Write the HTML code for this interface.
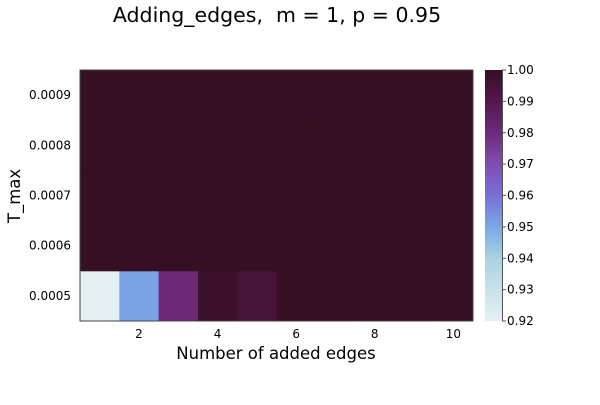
<!DOCTYPE html>
<html><head><meta charset="utf-8"><style>
body{margin:0;background:#fff}
svg text{font-family:"DejaVu Sans","Liberation Sans",sans-serif}
</style></head><body>
<svg id="c" width="600" height="400" xmlns="http://www.w3.org/2000/svg">
<defs><linearGradient id="g" x1="0" y1="1" x2="0" y2="0">
<stop offset="0" stop-color="#e6f1f1"/><stop offset="0.25" stop-color="#a9d2e0"/>
<stop offset="0.375" stop-color="#7aa8e6"/><stop offset="0.5" stop-color="#7a6ed6"/>
<stop offset="0.625" stop-color="#7f4db4"/><stop offset="0.75" stop-color="#6e2a7a"/>
<stop offset="0.875" stop-color="#561750"/><stop offset="1" stop-color="#360f22"/>
</linearGradient></defs>
</svg>
<script>
const xCats=[1,2,3,4,5,6,7,8,9,10];
const yCats=[0.0005,0.0006,0.0007,0.0008,0.0009];
const z=[
[0.921,0.951,0.981,0.998,0.995,1,1,1,1,1],
[1,1,1,1,1,1,1,1,1,1],
[1,1,1,1,1,1,1,1,1,1],
[1,1,1,1,1,1,1,1,1,1],
[1,1,1,1,1,1,1,1,1,1]];
const xTicks=[2,4,6,8,10];
const yTickLabels=["0.0005","0.0006","0.0007","0.0008","0.0009"];
const cTicks=[0.92,0.93,0.94,0.95,0.96,0.97,0.98,0.99,1.00];
const cmin=0.92,cmax=1.0;
const L=80,R=473,T=70,B=321;
const svg=document.getElementById('c');
const NS='http://www.w3.org/2000/svg';
const xs=v=>L+(v-0.5)/10*(R-L);
const ys=v=>B-(v-0.00045)/0.0005*(B-T);
const stops=[[0,[230,241,241]],[0.25,[169,210,224]],[0.375,[122,168,230]],[0.5,[122,110,214]],[0.625,[127,77,180]],[0.75,[110,42,122]],[0.875,[86,23,80]],[1,[54,15,34]]];
function col(v){let t=Math.max(0,Math.min(1,(v-cmin)/(cmax-cmin)));
for(let i=1;i<stops.length;i++){if(t<=stops[i][0]){const a=stops[i-1],b=stops[i],f=(t-a[0])/(b[0]-a[0]);
return 'rgb('+a[1].map((c,k)=>Math.round(c+(b[1][k]-c)*f)).join(',')+')';}}return 'rgb(54,15,34)';}
function mk(tag,at,txt){const e=document.createElementNS(NS,tag);for(const k in at)e.setAttribute(k,at[k]);if(txt!=null)e.textContent=txt;svg.appendChild(e);return e;}
for(let r=0;r<yCats.length;r++)for(let c=0;c<xCats.length;c++){
const x0=xs(xCats[c]-0.5),x1=xs(xCats[c]+0.5),y0=ys(yCats[r]+0.00005),y1=ys(yCats[r]-0.00005);
const e=mk('rect',{x:x0,y:y0,width:x1-x0+0.5,height:y1-y0+0.5,fill:col(z[r][c])});

}
let f=mk('rect',{x:L,y:T,width:R-L,height:B-T,fill:'none',stroke:'#444','stroke-width':1});

xTicks.forEach(v=>{const e=mk('text',{x:xs(v),y:338,'font-size':12,'text-anchor':'middle',fill:'#000'},String(v));
});
yCats.forEach((v,i)=>{const e=mk('text',{x:71,y:ys(v)+4,'font-size':12,'text-anchor':'end',fill:'#000'},yTickLabels[i]);
});
let e=mk('text',{x:276,y:359,'font-size':16.5,'text-anchor':'middle'},'Number of added edges');

e=mk('text',{x:20,y:196,'font-size':16.5,'text-anchor':'middle',transform:'rotate(-90 20 196)'},'T_max');

e=mk('text',{x:277,y:22,'font-size':20.5,'text-anchor':'middle'},'Adding_edges, \u00a0m = 1, p = 0.95');

e=mk('rect',{x:485,y:70,width:17,height:251,fill:'url(#g)'});

mk('line',{x1:502.5,y1:70,x2:502.5,y2:321,stroke:'#555','stroke-width':1});
const cy=v=>321-(v-cmin)/(cmax-cmin)*251;
cTicks.forEach(v=>{mk('line',{x1:502,y1:cy(v),x2:506,y2:cy(v),stroke:'#555'});
const t=mk('text',{x:507,y:cy(v)+4,'font-size':12},v.toFixed(2));
});
</script>
</body></html>
